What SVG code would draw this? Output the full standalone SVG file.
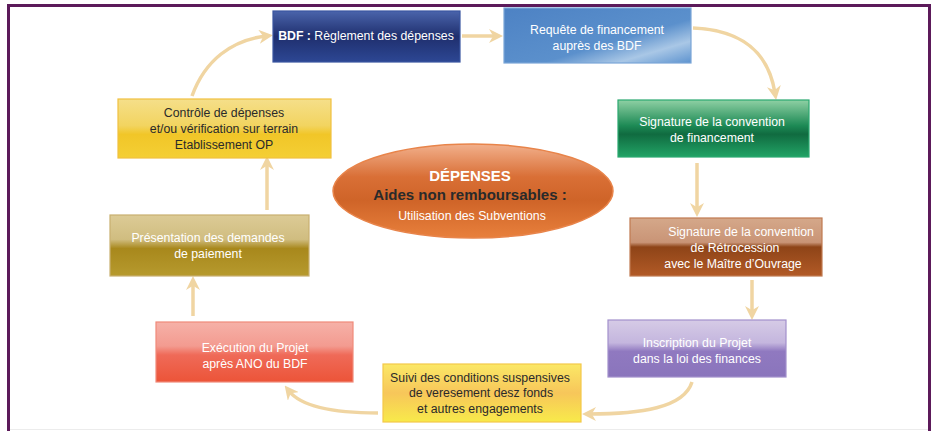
<svg xmlns="http://www.w3.org/2000/svg" width="935" height="431" viewBox="0 0 935 431">
<style>
  .t{font-family:"Liberation Sans",Arial,sans-serif;font-size:12.3px;text-anchor:middle}
  .w{fill:#ffffff}
  .k{fill:#2a2a2a}
  .big{font-size:15px;font-weight:bold}
  .c{fill:none;stroke:#f0d5a2;stroke-width:3.5}
  .box{stroke-width:1.2}
</style>
<defs>
  <marker id="ah" viewBox="0 0 10 10" refX="5" refY="5" markerWidth="4" markerHeight="4" orient="auto" markerUnits="strokeWidth">
    <path d="M0,0 L10,5 L0,10 L3,5 Z" fill="#f0d5a2"/>
  </marker>
  <linearGradient id="gBlue" x1="0" y1="0" x2="0" y2="1">
    <stop offset="0" stop-color="#4a64ab"/><stop offset="0.5" stop-color="#1f2f6e"/><stop offset="1" stop-color="#2d4794"/>
  </linearGradient>
  <linearGradient id="gLBlue" x1="0" y1="0" x2="1" y2="1">
    <stop offset="0" stop-color="#4d82c4"/><stop offset="0.6" stop-color="#5b90cc"/><stop offset="0.8" stop-color="#a9c7e6"/><stop offset="1" stop-color="#5d93cf"/>
  </linearGradient>
  <linearGradient id="gGreen" x1="0" y1="0" x2="0" y2="1">
    <stop offset="0" stop-color="#8fd0a4"/><stop offset="0.45" stop-color="#1d8a55"/><stop offset="0.6" stop-color="#106b40"/><stop offset="1" stop-color="#22a466"/>
  </linearGradient>
  <linearGradient id="gBrown" x1="0" y1="0" x2="0" y2="1">
    <stop offset="0" stop-color="#d5a88a"/><stop offset="0.42" stop-color="#c99476"/><stop offset="0.5" stop-color="#8e4418"/><stop offset="1" stop-color="#b25a26"/>
  </linearGradient>
  <linearGradient id="gPurple" x1="0" y1="0" x2="0" y2="1">
    <stop offset="0" stop-color="#d6cbe6"/><stop offset="0.4" stop-color="#c4b6de"/><stop offset="0.55" stop-color="#9079c0"/><stop offset="1" stop-color="#8a75bc"/>
  </linearGradient>
  <linearGradient id="gYellow" x1="0" y1="0" x2="0" y2="1">
    <stop offset="0" stop-color="#fbe866"/><stop offset="0.5" stop-color="#f7c65a"/><stop offset="1" stop-color="#f8ea4a"/>
  </linearGradient>
  <linearGradient id="gRed" x1="0" y1="0" x2="0" y2="1">
    <stop offset="0" stop-color="#f6b1a8"/><stop offset="0.4" stop-color="#f39b90"/><stop offset="0.55" stop-color="#ef6a58"/><stop offset="1" stop-color="#ec5438"/>
  </linearGradient>
  <linearGradient id="gOlive" x1="0" y1="0" x2="0" y2="1">
    <stop offset="0" stop-color="#dccb96"/><stop offset="0.4" stop-color="#d0bd80"/><stop offset="0.55" stop-color="#a8881c"/><stop offset="1" stop-color="#b69a2e"/>
  </linearGradient>
  <linearGradient id="gGold" x1="0" y1="0" x2="0" y2="1">
    <stop offset="0" stop-color="#f5df8a"/><stop offset="0.45" stop-color="#f2d460"/><stop offset="0.6" stop-color="#f1c628"/><stop offset="1" stop-color="#f4cf34"/>
  </linearGradient>
  <linearGradient id="gEll" x1="0" y1="0" x2="0" y2="1">
    <stop offset="0" stop-color="#f2b08c"/><stop offset="0.35" stop-color="#d96f36"/><stop offset="0.6" stop-color="#cf6428"/><stop offset="1" stop-color="#e8803c"/>
  </linearGradient>
</defs>

<rect width="935" height="431" fill="#ffffff"/>
<path d="M8.5,431 V5.5 H929.5 V431" fill="none" stroke="#5c1a5a" stroke-width="3"/>
<line x1="10" y1="429.5" x2="928" y2="429.5" stroke="#ececec" stroke-width="1"/>

<g id="connectors">
  <line class="c" x1="462" y1="36" x2="496" y2="36" marker-end="url(#ah)"/>
  <path class="c" d="M693,28 C740,30 768,50 775,93" marker-end="url(#ah)"/>
  <line class="c" x1="697" y1="163" x2="697" y2="210" marker-end="url(#ah)"/>
  <line class="c" x1="752" y1="280" x2="752" y2="313" marker-end="url(#ah)"/>
  <path class="c" d="M692,382 C684,408 640,414 589,414" marker-end="url(#ah)"/>
  <path class="c" d="M378,413 C330,413 300,405 289,391" marker-end="url(#ah)"/>
  <line class="c" x1="193" y1="316" x2="193" y2="283" marker-end="url(#ah)"/>
  <line class="c" x1="267" y1="210" x2="267" y2="163" marker-end="url(#ah)"/>
  <path class="c" d="M192,96 C205,60 232,40 266,36" marker-end="url(#ah)"/>
</g>

<g id="n-bdf">
  <rect class="box" x="273" y="11" width="187" height="51" fill="url(#gBlue)" stroke="#3a55a0"/>
  <text class="t w" x="366" y="40"><tspan font-weight="bold">BDF :</tspan> Règlement des dépenses</text>
</g>
<g id="n-requete">
  <rect class="box" x="504" y="8" width="187" height="55" fill="url(#gLBlue)" stroke="#7aa6d8"/>
  <text class="t w" x="597" y="34">Requête de financement</text>
  <text class="t w" x="597" y="50">auprès des BDF</text>
</g>
<g id="n-sigfin">
  <rect class="box" x="618" y="100" width="191" height="57" fill="url(#gGreen)" stroke="#2aa870"/>
  <text class="t w" x="712" y="126">Signature de la convention</text>
  <text class="t w" x="712" y="142">de financement</text>
</g>
<g id="n-sigretro">
  <rect class="box" x="630" y="218" width="192" height="58" fill="url(#gBrown)" stroke="#c07a50"/>
  <text class="t w" x="741" y="236">Signature de la convention</text>
  <text class="t w" x="735" y="252">de Rétrocession</text>
  <text class="t w" x="733" y="268">avec le Maître d’Ouvrage</text>
</g>
<g id="n-inscription">
  <rect class="box" x="608" y="320" width="178" height="57" fill="url(#gPurple)" stroke="#a290cc"/>
  <text class="t w" x="697" y="347">Inscription du Projet</text>
  <text class="t w" x="697" y="363">dans la loi des finances</text>
</g>
<g id="n-suivi">
  <rect class="box" x="383" y="364" width="198" height="58" fill="url(#gYellow)" stroke="#f3c84a"/>
  <text class="t k" x="480" y="382">Suivi des conditions suspensives</text>
  <text class="t k" x="481" y="397">de veresement desz fonds</text>
  <text class="t k" x="480" y="413">et autres engagements</text>
</g>
<g id="n-execution">
  <rect class="box" x="156" y="322" width="197" height="60" fill="url(#gRed)" stroke="#f08a7a"/>
  <text class="t w" x="255" y="352">Exécution du Projet</text>
  <text class="t w" x="255" y="368">après ANO du BDF</text>
</g>
<g id="n-presentation">
  <rect class="box" x="110" y="215" width="199" height="61" fill="url(#gOlive)" stroke="#c8b070"/>
  <text class="t w" x="208" y="242">Présentation des demandes</text>
  <text class="t w" x="208" y="258">de paiement</text>
</g>
<g id="n-controle">
  <rect class="box" x="118" y="99" width="213" height="59" fill="url(#gGold)" stroke="#f0c040"/>
  <text class="t k" x="224" y="117">Contrôle de dépenses</text>
  <text class="t k" x="224" y="133">et/ou vérification sur terrain</text>
  <text class="t k" x="224" y="149">Etablissement OP</text>
</g>
<g id="n-center">
  <ellipse cx="473" cy="191" rx="140" ry="47" fill="url(#gEll)" stroke="#e8844a" stroke-width="1.5"/>
  <text class="t w big" x="470" y="181">DÉPENSES</text>
  <text class="t k big" x="470" y="200">Aides non remboursables :</text>
  <text class="t w" x="472" y="220">Utilisation des Subventions</text>
</g>
</svg>
